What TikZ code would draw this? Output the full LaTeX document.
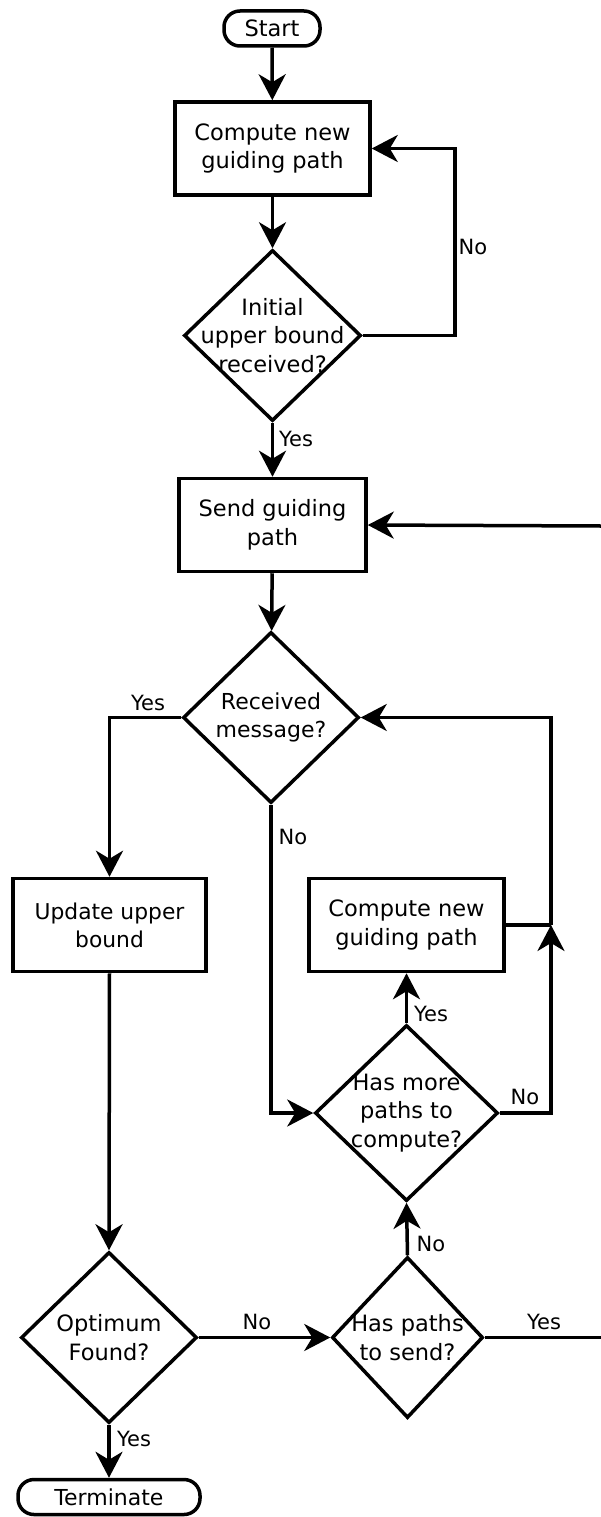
\documentclass[tikz,border=0pt]{standalone}
\usepackage{fontspec}
\setmainfont{DejaVu Sans}
\usetikzlibrary{shapes.geometric,arrows.meta}
\begin{document}
\begin{tikzpicture}[x=1pt,y=-1pt,
  every node/.style={inner sep=0pt},
  line/.style={line width=3.5pt},
  arr/.style={line width=3.5pt,-{Stealth[length=26pt,width=27pt,inset=8pt]}},
  boxnode/.style={draw,line width=3.5pt,rectangle,minimum width=#1,minimum height=93pt,align=center},
  termnode/.style={draw,line width=3.5pt,rectangle,rounded corners=16pt,minimum width=#1,minimum height=35pt},
  dnode/.style args={#1x#2}{draw,line width=3.5pt,diamond,minimum width=#1,minimum height=#2},
  big/.style={font=\fontsize{22.5}{28.5}\selectfont},
  mid/.style={font=\fontsize{22}{27.5}\selectfont},
  lab/.style={font=\fontsize{21}{24}\selectfont}]
\useasboundingbox (0,0) rectangle (601,1517);
% nodes
\node[termnode=96pt,big] (start) at (272,28.5) {Start};
\node[boxnode=195pt,big] (c1) at (272.5,148.5) {Compute new\\guiding path};
\node[dnode=177x171,label={[big,align=center]center:Initial\\upper bound\\received?}] (d1) at (272.5,335.5) {};
\node[boxnode=187pt,big] (s1) at (272.5,525) {Send guiding\\path};
\node[dnode=176x171,label={[mid,align=center]center:Received\\message?}] (d2) at (271,717.5) {};
\node[boxnode=193pt,font=\fontsize{21.8}{28}\selectfont] (u1) at (109.5,925) {Update upper\\bound};
\node[boxnode=195pt,big] (c2) at (406.5,925) {Compute new\\guiding path};
\node[dnode=183x176,label={[big,align=center]center:Has more\\paths to\\compute?}] (d3) at (406.5,1113) {};
\node[dnode=176x171,label={[big,align=center]center:Optimum\\Found?}] (d4) at (109,1337.5) {};
\node[dnode=151x161,label={[big,align=center]center:Has paths\\to send?}] (d5) at (407.5,1337.5) {};
\node[termnode=182pt,mid] (term) at (109,1497) {Terminate};
% free ends
\coordinate (inR) at (601,526);
\coordinate (outR) at (601,1337.5);
\coordinate (j) at (551,925);
% connectors
\draw[arr] (start) -- (c1);
\draw[arr] (c1) -- (d1);
\draw[arr] (d1.east) -- ++(92,0) |- (c1.east);
\draw[arr] (d1.south) -- (s1.north);
\draw[arr] (inR) -- (s1.east);
\draw[arr] (s1) -- (d2);
\draw[arr] (d2.west) -| (u1.north);
\draw[arr] (d2.south) |- (d3.west);
\draw[arr] (d3.north) -- (c2.south);
\draw[arr] (d3.east) -| (j);
\draw[line] (c2.east) -- (j);
\draw[arr] (j) |- (d2.east);
\draw[arr] (u1.south) -- (d4.north);
\draw[arr] (d4.east) -- (d5.west);
\draw[arr] (d5.north) -- (d3.south);
\draw[line] (d5.east) -- (outR);
\draw[arr] (d4.south) -- (term.north);
% labels
\node[lab] (l1) at (473,247) {No};
\node[lab] (l2) at (296,439) {Yes};
\node[lab] (l3) at (148,703) {Yes};
\node[lab] (l4) at (293,837) {No};
\node[lab] (l5) at (431,1014) {Yes};
\node[lab] (l6) at (525,1097) {No};
\node[lab] (l7) at (431,1244) {No};
\node[lab] (l8) at (257,1322) {No};
\node[lab] (l9) at (544,1322) {Yes};
\node[lab] (l10) at (134,1439) {Yes};
\end{tikzpicture}
\end{document}
